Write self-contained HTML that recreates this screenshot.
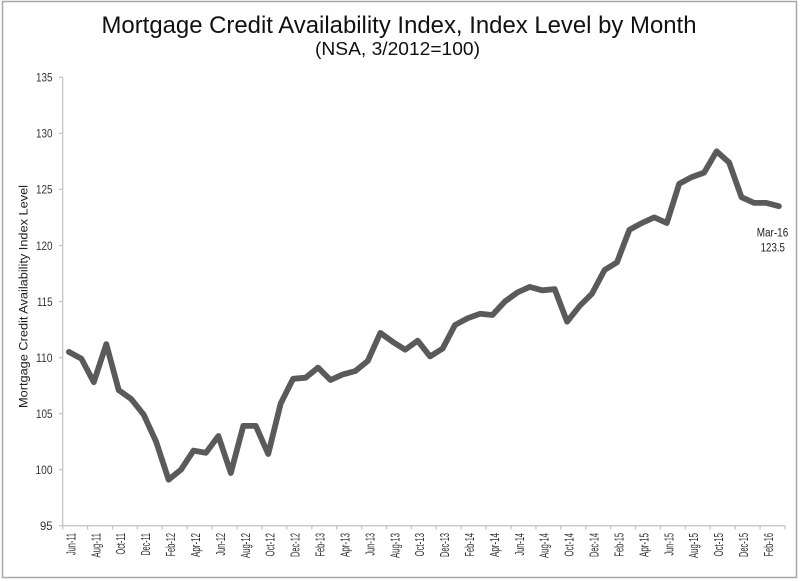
<!DOCTYPE html>
<html>
<head>
<meta charset="utf-8">
<style>
html,body{margin:0;padding:0;background:#fff;}
svg{display:block;}
text{font-family:"Liberation Sans",sans-serif;}
</style>
</head>
<body>
<svg width="800" height="581" viewBox="0 0 800 581" xmlns="http://www.w3.org/2000/svg">
<rect x="0" y="0" width="800" height="581" fill="#fff"/>
<rect x="2.5" y="1.5" width="794" height="576" fill="none" stroke="#a8a8a8" stroke-width="1.5"/>

<!-- Title -->
<text x="399" y="33" font-size="24" fill="#111" text-anchor="middle" textLength="595" lengthAdjust="spacingAndGlyphs">Mortgage Credit Availability Index, Index Level by Month</text>
<text x="397.5" y="55" font-size="18.5" fill="#111" text-anchor="middle" textLength="165" lengthAdjust="spacingAndGlyphs">(NSA, 3/2012=100)</text>

<!-- Axes -->
<g stroke="#c6c6c6" stroke-width="1.3" fill="none">
<line x1="62.7" y1="77.3" x2="62.7" y2="525.7"/>
<line x1="62.7" y1="525.7" x2="785" y2="525.7"/>
<line x1="59" y1="77.3" x2="62.7" y2="77.3"/>
<line x1="59" y1="133.4" x2="62.7" y2="133.4"/>
<line x1="59" y1="189.4" x2="62.7" y2="189.4"/>
<line x1="59" y1="245.5" x2="62.7" y2="245.5"/>
<line x1="59" y1="301.5" x2="62.7" y2="301.5"/>
<line x1="59" y1="357.6" x2="62.7" y2="357.6"/>
<line x1="59" y1="413.6" x2="62.7" y2="413.6"/>
<line x1="59" y1="469.6" x2="62.7" y2="469.6"/>
<line x1="59" y1="525.7" x2="62.7" y2="525.7"/>
<line x1="62.7" y1="525.7" x2="62.7" y2="529.5"/>
<line x1="87.6" y1="525.7" x2="87.6" y2="529.5"/>
<line x1="112.5" y1="525.7" x2="112.5" y2="529.5"/>
<line x1="137.4" y1="525.7" x2="137.4" y2="529.5"/>
<line x1="162.3" y1="525.7" x2="162.3" y2="529.5"/>
<line x1="187.2" y1="525.7" x2="187.2" y2="529.5"/>
<line x1="212.2" y1="525.7" x2="212.2" y2="529.5"/>
<line x1="237.1" y1="525.7" x2="237.1" y2="529.5"/>
<line x1="262.0" y1="525.7" x2="262.0" y2="529.5"/>
<line x1="286.9" y1="525.7" x2="286.9" y2="529.5"/>
<line x1="311.8" y1="525.7" x2="311.8" y2="529.5"/>
<line x1="336.7" y1="525.7" x2="336.7" y2="529.5"/>
<line x1="361.6" y1="525.7" x2="361.6" y2="529.5"/>
<line x1="386.5" y1="525.7" x2="386.5" y2="529.5"/>
<line x1="411.4" y1="525.7" x2="411.4" y2="529.5"/>
<line x1="436.3" y1="525.7" x2="436.3" y2="529.5"/>
<line x1="461.2" y1="525.7" x2="461.2" y2="529.5"/>
<line x1="486.1" y1="525.7" x2="486.1" y2="529.5"/>
<line x1="511.0" y1="525.7" x2="511.0" y2="529.5"/>
<line x1="535.9" y1="525.7" x2="535.9" y2="529.5"/>
<line x1="560.8" y1="525.7" x2="560.8" y2="529.5"/>
<line x1="585.7" y1="525.7" x2="585.7" y2="529.5"/>
<line x1="610.6" y1="525.7" x2="610.6" y2="529.5"/>
<line x1="635.5" y1="525.7" x2="635.5" y2="529.5"/>
<line x1="660.5" y1="525.7" x2="660.5" y2="529.5"/>
<line x1="685.4" y1="525.7" x2="685.4" y2="529.5"/>
<line x1="710.3" y1="525.7" x2="710.3" y2="529.5"/>
<line x1="735.2" y1="525.7" x2="735.2" y2="529.5"/>
<line x1="760.1" y1="525.7" x2="760.1" y2="529.5"/>
<line x1="785.0" y1="525.7" x2="785.0" y2="529.5"/>
</g>

<!-- Y tick labels -->
<g font-size="12" fill="#333" text-anchor="end">
<text x="52.5" y="81.6" textLength="16.5" lengthAdjust="spacingAndGlyphs">135</text>
<text x="52.5" y="137.7" textLength="16.5" lengthAdjust="spacingAndGlyphs">130</text>
<text x="52.5" y="193.7" textLength="16.5" lengthAdjust="spacingAndGlyphs">125</text>
<text x="52.5" y="249.8" textLength="16.5" lengthAdjust="spacingAndGlyphs">120</text>
<text x="52.5" y="305.8" textLength="15.5" lengthAdjust="spacingAndGlyphs">115</text>
<text x="52.5" y="361.9" textLength="16.5" lengthAdjust="spacingAndGlyphs">110</text>
<text x="52.5" y="417.9" textLength="16.5" lengthAdjust="spacingAndGlyphs">105</text>
<text x="52.5" y="473.9" textLength="17" lengthAdjust="spacingAndGlyphs">100</text>
<text x="52.5" y="530.0" textLength="12.5" lengthAdjust="spacingAndGlyphs">95</text>
</g>

<!-- Y axis title -->
<text transform="translate(27.5,296.5) rotate(-90)" font-size="11.5" fill="#222" text-anchor="middle" textLength="223" lengthAdjust="spacingAndGlyphs">Mortgage Credit Availability Index Level</text>

<!-- X tick labels -->
<g font-size="13" fill="#333" text-anchor="end">
<text transform="translate(75.5,533) rotate(-90)" textLength="22" lengthAdjust="spacingAndGlyphs">Jun-11</text>
<text transform="translate(100.3,533) rotate(-90)" textLength="24.5" lengthAdjust="spacingAndGlyphs">Aug-11</text>
<text transform="translate(125.2,533) rotate(-90)" textLength="21.5" lengthAdjust="spacingAndGlyphs">Oct-11</text>
<text transform="translate(150.2,533) rotate(-90)" textLength="22.5" lengthAdjust="spacingAndGlyphs">Dec-11</text>
<text transform="translate(175.1,533) rotate(-90)" textLength="23.5" lengthAdjust="spacingAndGlyphs">Feb-12</text>
<text transform="translate(200.0,533) rotate(-90)" textLength="24" lengthAdjust="spacingAndGlyphs">Apr-12</text>
<text transform="translate(224.9,533) rotate(-90)" textLength="22.5" lengthAdjust="spacingAndGlyphs">Jun-12</text>
<text transform="translate(249.8,533) rotate(-90)" textLength="25" lengthAdjust="spacingAndGlyphs">Aug-12</text>
<text transform="translate(274.7,533) rotate(-90)" textLength="23.5" lengthAdjust="spacingAndGlyphs">Oct-12</text>
<text transform="translate(299.6,533) rotate(-90)" textLength="24" lengthAdjust="spacingAndGlyphs">Dec-12</text>
<text transform="translate(324.5,533) rotate(-90)" textLength="23.5" lengthAdjust="spacingAndGlyphs">Feb-13</text>
<text transform="translate(349.4,533) rotate(-90)" textLength="24" lengthAdjust="spacingAndGlyphs">Apr-13</text>
<text transform="translate(374.3,533) rotate(-90)" textLength="22.5" lengthAdjust="spacingAndGlyphs">Jun-13</text>
<text transform="translate(399.3,533) rotate(-90)" textLength="25" lengthAdjust="spacingAndGlyphs">Aug-13</text>
<text transform="translate(424.2,533) rotate(-90)" textLength="23.5" lengthAdjust="spacingAndGlyphs">Oct-13</text>
<text transform="translate(449.1,533) rotate(-90)" textLength="24" lengthAdjust="spacingAndGlyphs">Dec-13</text>
<text transform="translate(474.0,533) rotate(-90)" textLength="23.5" lengthAdjust="spacingAndGlyphs">Feb-14</text>
<text transform="translate(498.9,533) rotate(-90)" textLength="24" lengthAdjust="spacingAndGlyphs">Apr-14</text>
<text transform="translate(523.8,533) rotate(-90)" textLength="22.5" lengthAdjust="spacingAndGlyphs">Jun-14</text>
<text transform="translate(548.7,533) rotate(-90)" textLength="25" lengthAdjust="spacingAndGlyphs">Aug-14</text>
<text transform="translate(573.6,533) rotate(-90)" textLength="23.5" lengthAdjust="spacingAndGlyphs">Oct-14</text>
<text transform="translate(598.5,533) rotate(-90)" textLength="24" lengthAdjust="spacingAndGlyphs">Dec-14</text>
<text transform="translate(623.5,533) rotate(-90)" textLength="23.5" lengthAdjust="spacingAndGlyphs">Feb-15</text>
<text transform="translate(648.4,533) rotate(-90)" textLength="24" lengthAdjust="spacingAndGlyphs">Apr-15</text>
<text transform="translate(673.3,533) rotate(-90)" textLength="22.5" lengthAdjust="spacingAndGlyphs">Jun-15</text>
<text transform="translate(698.2,533) rotate(-90)" textLength="25" lengthAdjust="spacingAndGlyphs">Aug-15</text>
<text transform="translate(723.1,533) rotate(-90)" textLength="23.5" lengthAdjust="spacingAndGlyphs">Oct-15</text>
<text transform="translate(748.0,533) rotate(-90)" textLength="24" lengthAdjust="spacingAndGlyphs">Dec-15</text>
<text transform="translate(772.9,533) rotate(-90)" textLength="23.5" lengthAdjust="spacingAndGlyphs">Feb-16</text>
</g>

<!-- Data line -->
<polyline fill="none" stroke="#5a5a5a" stroke-width="5.8" stroke-linejoin="round" stroke-linecap="round"
points="68.9,351.9 81.4,358.7 93.8,382.2 106.3,344.1 118.7,390.1 131.2,399.0 143.7,414.7 156.1,441.6 168.6,479.7 181.0,469.6 193.5,450.6 205.9,452.8 218.4,436.0 230.8,473.0 243.3,425.9 255.8,425.9 268.2,454.0 280.7,403.5 293.1,378.8 305.6,377.7 318.0,367.6 330.5,380.0 342.9,374.4 355.4,371.0 367.8,360.9 380.3,332.9 392.8,341.9 405.2,349.7 417.7,340.7 430.1,356.4 442.6,348.6 455.0,325.0 467.5,318.3 479.9,313.8 492.4,315.0 504.9,301.5 517.3,292.5 529.8,286.9 542.2,290.3 554.7,289.2 567.1,321.7 579.6,306.0 592.0,293.7 604.5,270.1 617.0,262.3 629.4,229.8 641.9,223.0 654.3,217.4 666.8,223.0 679.2,183.8 691.7,177.1 704.1,172.6 716.6,151.3 729.1,162.5 741.5,197.2 754.0,202.9 766.4,202.9 778.9,206.2"/>

<!-- Annotation -->
<g font-size="11.5" fill="#222" text-anchor="middle">
<text x="772.5" y="236.7" textLength="31.5" lengthAdjust="spacingAndGlyphs">Mar-16</text>
<text x="772.8" y="251.7" textLength="24.3" lengthAdjust="spacingAndGlyphs">123.5</text>
</g>
</svg>
</body>
</html>
